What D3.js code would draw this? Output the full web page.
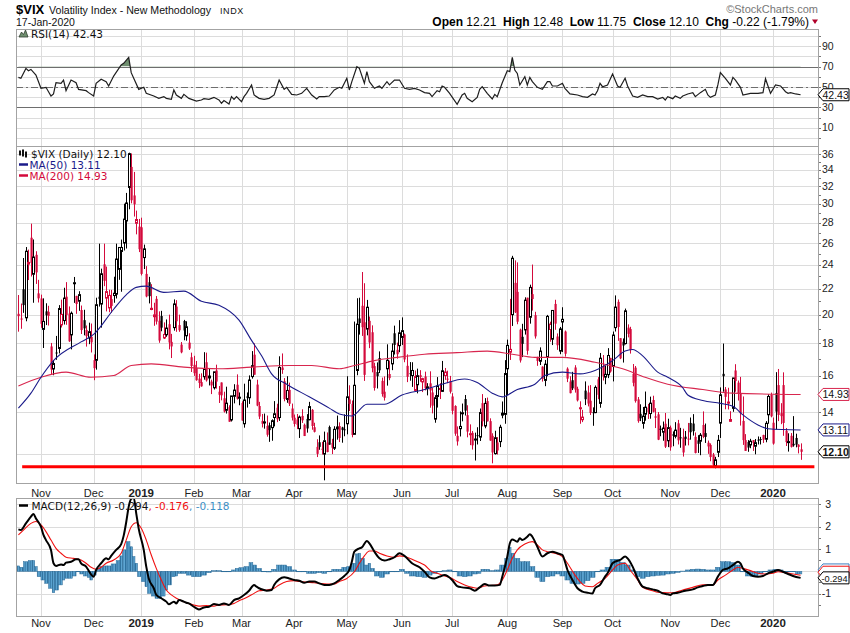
<!DOCTYPE html>
<html>
<head>
<meta charset="utf-8" />
<script src="https://cdn.jsdelivr.net/npm/d3@7"></script>
<style>
  body { margin: 0; background: #fff; }
  svg { display: block; }
  text { white-space: pre; }
</style>
</head>
<body>
<svg id="chart" width="850" height="633"></svg>
<script>
// $VIX daily, 19-Oct-2018 .. 17-Jan-2020, one entry per trading day (month by month)
const opens = [
  20.06,19.72,21.95,19.77,24.07,26.51,23.19,24.90,21.62,
  21.22,18.95,20.24,20.21,17.80,16.39,17.41,17.67,19.26,19.57,21.36,20.08,18.57,22.40,21.42,21.01,20.34,19.60,18.91,18.36,18.44,
  16.93,16.92,21.36,20.79,24.05,21.25,20.50,21.17,21.45,21.56,23.61,25.21,26.00,28.19,31.87,34.36,30.95,27.95,27.61,
  27.54,24.65,23.22,22.52,20.38,19.85,21.19,19.56,19.90,18.36,18.58,19.31,18.10,19.07,20.60,19.25,17.92,19.54,18.51,18.05,17.11,
  16.64,16.45,15.82,15.62,15.93,16.80,15.86,15.65,15.30,16.30,15.08,15.60,14.72,14.09,14.25,13.60,14.83,15.47,14.73,
  14.47,13.41,14.83,14.75,15.94,17.27,15.48,14.31,13.55,13.46,13.30,13.34,13.22,13.72,14.22,13.72,16.48,15.67,14.66,15.18,14.18,
  13.71,13.62,13.17,13.80,13.36,13.65,13.61,14.11,13.24,12.32,12.53,12.24,12.00,12.52,13.25,12.50,12.26,13.16,13.30,13.23,13.14,
  13.41,14.66,14.42,12.90,16.30,19.72,20.66,19.45,18.97,19.55,18.75,16.56,16.21,17.06,15.69,15.08,16.40,16.09,16.70,18.68,17.58,17.85,
  18.40,18.60,16.58,16.14,16.00,15.15,15.47,16.02,15.63,15.95,15.25,15.55,15.04,13.64,14.82,15.23,15.10,16.00,15.82,15.68,
  14.82,14.31,12.83,13.17,13.93,14.68,13.84,12.91,12.97,12.67,12.86,12.77,14.46,13.30,14.57,13.54,12.83,12.02,12.52,12.56,13.84,13.88,
  16.40,17.43,20.00,22.47,21.74,18.93,18.44,18.91,21.28,19.81,21.56,19.96,17.08,16.86,16.53,15.72,17.10,18.94,18.28,20.80,18.46,17.50,
  19.47,18.80,16.41,15.65,15.73,16.48,15.24,14.21,13.61,15.14,15.04,14.59,13.99,13.97,15.78,14.45,16.57,15.91,16.05,17.07,
  16.54,19.07,20.96,18.35,18.11,17.99,19.07,18.97,16.10,16.47,14.66,13.91,13.43,13.89,14.22,13.92,14.63,13.78,13.88,13.17,13.00,13.41,12.60,
  13.22,12.91,12.81,13.43,12.76,12.75,12.79,12.70,13.45,13.42,12.78,12.62,12.58,13.35,12.96,12.51,12.41,11.98,11.50,12.08,
  13.44,16.10,15.21,14.46,13.53,14.19,16.30,15.59,15.00,13.55,12.63,12.54,12.41,12.63,12.35,12.65,12.68,12.87,12.67,13.86,14.90,
  13.46,15.01,15.45,13.94,15.45,13.07,12.53,12.83,12.46,12.73,12.42,12.21
];
const highs = [
  21.49,20.83,24.61,25.62,25.38,27.91,26.34,25.23,22.72,
  21.52,21.23,20.85,20.66,18.03,16.93,18.50,20.71,21.13,22.07,22.53,20.61,20.23,22.96,21.43,21.79,20.68,20.36,19.22,19.42,19.36,
  17.29,21.28,25.94,23.67,25.94,23.85,21.91,21.90,22.98,25.94,25.39,26.33,30.03,31.24,36.20,36.10,33.74,29.28,28.40,
  28.53,25.85,23.89,22.97,22.36,20.89,21.41,20.24,20.28,19.44,19.65,20.00,18.64,21.15,21.09,20.00,18.09,19.62,19.52,18.68,17.40,
  17.20,16.88,16.10,16.13,17.43,17.40,16.40,15.76,16.08,16.65,15.40,15.60,15.08,15.36,14.35,14.85,15.50,16.07,15.04,
  14.56,15.53,15.04,16.01,17.50,18.00,15.76,14.53,13.90,13.92,13.82,13.47,13.63,14.57,14.43,17.17,17.35,15.85,15.96,15.59,14.44,
  13.87,13.90,13.82,14.14,13.42,13.89,14.53,14.15,13.46,12.67,12.85,12.55,13.03,12.99,13.32,12.69,13.29,13.82,13.48,13.26,13.88,
  15.96,15.44,14.60,19.50,21.24,21.28,23.38,22.44,21.11,19.86,19.23,16.77,16.79,17.48,15.88,15.95,17.94,16.90,18.00,19.21,18.05,19.60,
  19.80,18.66,17.29,16.81,16.80,16.30,16.41,16.32,15.87,16.23,15.56,16.25,15.29,14.89,15.91,15.56,16.88,16.45,16.29,15.98,
  15.00,14.35,13.28,14.03,14.44,14.90,14.35,13.38,13.06,12.98,13.24,14.18,14.95,14.73,14.76,13.68,12.95,13.07,12.77,13.36,14.55,16.93,
  18.25,21.19,24.81,24.40,24.22,19.00,19.34,21.31,21.28,22.32,24.03,20.21,17.14,17.74,16.55,16.94,19.98,19.49,20.34,21.12,18.67,19.12,
  20.55,18.87,16.49,15.96,16.22,16.62,15.36,14.56,14.11,15.66,15.42,15.45,14.24,15.43,15.91,17.38,17.25,16.59,17.69,17.07,
  18.80,21.46,21.14,18.35,18.33,20.45,19.30,19.13,16.69,16.57,14.79,14.40,14.26,15.09,14.42,14.81,14.86,14.20,14.00,13.32,13.52,13.95,13.66,
  13.32,13.04,13.49,13.60,13.21,13.17,13.06,13.45,13.72,13.89,12.99,12.86,12.96,14.03,13.42,12.61,12.48,12.05,11.88,12.87,
  15.32,17.99,15.34,15.30,14.04,15.86,16.68,15.71,15.92,14.82,12.91,12.63,12.69,12.63,12.68,12.80,12.78,12.88,13.54,14.94,15.03,
  13.72,16.20,16.39,14.46,16.19,13.20,12.95,12.96,13.79,12.93,12.44,12.48
];
const lows = [
  18.79,18.99,20.13,19.52,22.70,23.00,20.89,22.38,20.91,
  19.06,17.70,19.25,19.22,16.07,16.02,16.95,17.35,19.08,19.29,19.27,18.10,17.61,20.88,20.06,20.28,18.63,18.54,17.79,17.95,17.41,
  15.73,16.35,20.60,19.07,22.20,20.24,20.18,20.14,20.89,21.22,22.72,21.75,25.30,25.48,29.42,30.07,28.65,26.84,25.15,
  23.09,23.64,21.31,20.84,20.33,19.20,19.29,18.04,18.82,18.29,18.44,17.61,17.06,18.86,18.78,18.78,17.36,18.21,18.18,17.57,16.21,
  15.98,15.70,15.28,15.36,15.76,15.65,15.43,14.95,15.20,15.25,14.47,14.61,13.97,13.92,13.51,13.52,14.45,14.65,14.35,
  13.56,13.22,14.23,14.42,15.82,16.05,14.30,13.64,13.23,13.17,12.79,12.55,12.60,13.28,13.49,13.55,16.10,14.56,14.48,14.31,13.57,
  13.27,13.15,12.73,13.45,12.82,12.98,13.58,13.12,12.99,11.87,12.19,11.98,10.90,12.08,12.42,12.00,12.18,12.65,12.54,12.51,12.81,
  12.90,14.05,12.76,12.90,16.02,18.59,18.50,15.69,18.54,17.69,16.19,15.14,15.26,16.15,14.81,14.60,15.42,15.73,16.32,17.28,17.02,17.43,
  17.90,16.80,15.62,15.70,15.35,15.08,14.99,15.64,15.06,15.15,14.88,14.22,13.93,13.46,14.23,14.68,15.07,15.75,15.56,14.98,
  13.88,12.83,12.38,12.80,13.53,13.82,12.76,12.40,12.20,11.72,12.43,12.59,13.28,13.19,13.52,12.60,11.60,11.98,11.98,12.31,13.68,13.41,
  14.90,16.94,19.19,20.12,19.31,16.78,17.12,18.59,17.27,19.35,20.30,18.32,16.58,16.63,15.65,15.39,15.96,18.11,17.89,18.92,17.58,17.30,
  17.44,17.15,15.62,14.99,15.17,15.03,14.55,13.41,13.49,14.36,14.29,13.85,13.31,13.94,14.67,14.22,15.71,15.50,15.85,16.17,
  15.66,18.80,18.17,16.99,16.78,17.93,18.40,17.34,15.38,14.49,13.46,13.54,13.17,13.56,13.65,13.66,13.98,13.20,12.63,12.81,12.60,12.27,12.31,
  12.15,12.35,12.71,12.43,12.28,11.89,12.38,12.39,12.65,12.84,12.03,12.05,11.95,12.72,12.50,12.01,11.69,11.40,11.39,11.87,
  12.73,15.08,14.14,14.13,13.51,14.01,15.08,14.60,13.32,12.41,12.14,12.10,12.26,12.14,11.99,12.43,12.43,12.50,12.53,13.41,13.73,
  12.42,13.13,13.54,13.39,12.83,12.36,12.11,12.29,12.33,12.30,12.03,11.75
];
const closes = [
  19.89,19.64,20.71,25.23,24.22,24.16,24.70,23.35,21.23,
  19.34,19.51,19.96,19.91,16.36,16.72,17.36,20.45,20.02,21.25,19.98,18.14,20.10,22.48,20.80,21.52,18.90,19.02,18.49,18.79,18.07,
  16.44,20.74,21.19,23.23,22.64,21.76,21.46,20.65,21.63,24.52,25.58,25.58,28.38,30.11,36.07,30.41,29.96,28.34,25.42,
  23.22,25.45,21.38,21.40,20.47,19.98,19.50,18.19,19.07,18.60,19.04,18.06,17.80,20.80,19.52,18.89,17.42,18.87,19.13,17.66,16.57,
  16.14,15.73,15.57,15.38,16.37,15.72,15.97,15.43,16.22,15.65,14.91,14.88,14.02,14.46,13.51,14.85,15.17,14.70,14.78,
  13.57,14.63,14.74,15.74,16.59,16.05,14.33,13.77,13.41,13.50,12.88,13.10,13.56,13.91,13.63,16.48,16.33,14.68,15.15,14.43,13.71,
  13.40,13.36,13.74,13.58,12.82,13.18,14.28,13.30,13.02,12.01,12.32,12.18,12.60,12.09,12.42,12.28,13.14,13.25,12.73,13.11,13.12,
  14.80,14.42,12.87,15.44,19.32,19.40,19.10,16.04,20.55,18.06,16.44,15.29,15.96,16.31,14.95,14.75,16.92,15.85,17.50,17.90,17.30,18.71,
  18.86,16.97,15.93,16.09,16.30,15.94,15.99,15.91,15.82,15.28,15.35,15.15,14.33,14.75,15.40,15.26,16.28,16.21,15.82,15.08,
  14.06,12.93,12.57,13.28,13.96,14.07,13.03,12.93,12.39,12.68,12.86,13.97,13.53,14.45,13.53,12.61,12.07,12.74,12.16,13.24,13.94,16.12,
  17.87,17.61,24.59,20.17,19.49,16.91,17.97,21.09,17.52,22.10,21.18,18.47,16.88,17.50,15.80,16.68,19.87,19.32,20.31,19.35,17.88,18.98,
  19.66,17.33,15.82,15.00,15.27,15.20,14.61,14.22,13.74,14.67,14.44,13.95,13.95,15.32,14.91,17.05,15.96,16.07,17.22,16.24,
  18.56,20.56,19.12,17.04,17.86,20.28,18.64,17.57,15.58,14.57,13.54,13.68,13.79,14.25,14.00,14.46,14.01,13.71,12.65,13.11,13.20,12.33,13.22,
  12.30,12.83,13.10,12.62,12.73,12.07,12.69,12.68,13.00,13.05,12.05,12.46,12.86,12.78,12.78,12.34,11.87,11.54,11.75,12.62,
  14.91,15.96,14.80,14.52,13.62,15.86,15.68,14.99,13.94,12.63,12.14,12.29,12.58,12.50,12.51,12.61,12.67,12.65,13.43,14.82,13.78,
  12.47,14.02,13.85,13.79,13.45,12.54,12.56,12.32,12.39,12.42,12.32,12.10
];
const closeBeforeStart = 20.06;

// moving averages: [trading-day index, value]
const ma50 = [[0,14.2],[5,15.0],[9,15.9],[14,16.9],[25,18.1],[30,18.6],[38,20.4],[43,21.5],[47,22.1],[51,22.2],[58,21.7],[66,21.8],[73,21.0],[80,20.7],[88,19.6],[93,18.2],[97,17.2],[101,16.1],[107,15.5],[116,14.8],[124,14.2],[128,13.9],[133,13.8],[139,14.4],[146,14.4],[153,14.9],[162,15.2],[169,15.5],[178,15.8],[183,15.6],[189,15.0],[193,14.8],[199,15.2],[206,15.5],[210,16.0],[217,16.2],[224,16.1],[230,16.3],[237,16.9],[242,17.5],[245,17.6],[249,17.2],[255,16.2],[259,15.9],[265,15.3],[267,14.9],[273,14.6],[280,14.45],[285,14.3],[289,13.85],[295,13.35],[299,13.17],[312,13.11]];
const ma200 = [[0,15.4],[9,15.9],[19,16.2],[29,15.9],[38,16.0],[45,16.6],[53,16.7],[66,16.5],[80,16.4],[93,16.5],[108,16.6],[117,16.6],[128,16.4],[134,16.6],[142,16.9],[151,17.1],[162,17.3],[175,17.4],[187,17.5],[197,17.3],[206,17.1],[217,17.1],[230,16.8],[241,16.4],[250,15.9],[259,15.5],[273,15.2],[285,15.0],[312,14.93]];

const rsi = [[0,59.4],[1,58.5],[3,68.2],[4,65.9],[5,67.2],[7,61.7],[9,48.7],[11,49.7],[13,41.2],[14,43.2],[15,54.2],[17,53.6],[18,56.8],[19,46.4],[21,56.8],[23,54.2],[24,47.7],[27,46.4],[28,44.5],[30,41.2],[31,53.6],[33,57.5],[35,55.2],[36,51],[38,60.7],[41,71.5],[42,73.1],[44,78.9],[45,64],[46,58.5],[48,47.7],[50,49.7],[51,43.8],[54,41.2],[56,38.9],[58,40.6],[59,38.9],[61,38],[62,47.1],[63,42.2],[65,38.9],[66,42.8],[68,38.9],[71,36.3],[73,37.3],[74,38.6],[76,38],[78,39.9],[80,37.3],[81,34.1],[82,36.7],[84,33.4],[85,40.6],[86,38],[87,40.6],[89,35.7],[90,40.6],[91,43.8],[93,52],[94,42.2],[96,38.9],[98,38],[100,38.9],[102,42.2],[104,56.8],[106,47.7],[107,49.7],[109,42.8],[111,42.2],[113,43.8],[115,48.7],[117,42.2],[119,38.3],[120,40.6],[122,40.6],[124,41.2],[126,47.1],[128,49.7],[129,48.7],[131,58.5],[132,47.1],[133,55.2],[135,69.8],[136,68.2],[138,53.6],[139,65],[140,55.2],[142,48.7],[144,51],[145,48.7],[147,55.2],[148,52],[150,56.8],[152,56.8],[154,48.7],[156,47.7],[158,48.7],[160,47.1],[162,44.5],[164,43.8],[165,40.6],[167,46.4],[168,45.4],[169,51],[170,49.7],[172,43.8],[175,33.1],[177,42.2],[178,43.8],[179,38.9],[181,35.7],[183,39.9],[184,47.7],[185,50.3],[187,43.8],[189,38.3],[190,42.8],[191,40.6],[193,54.2],[195,65.9],[196,65],[197,78.9],[198,66.6],[199,63.3],[200,52],[202,60.1],[203,52],[204,59.4],[205,55.2],[207,49.7],[209,47.7],[211,55.2],[212,55.2],[213,51],[215,51],[217,53.6],[218,48.7],[220,43.2],[223,42.2],[225,40.6],[227,39.9],[229,43.2],[230,42.2],[231,46.4],[232,53.6],[233,50.3],[235,52],[237,62.7],[239,51],[240,49.7],[242,58.5],[243,51],[245,41.2],[247,39.9],[249,42.2],[251,40.6],[253,40.6],[255,38.3],[257,39.9],[258,37.3],[259,40.6],[261,38.6],[262,41.2],[264,38.9],[265,41.2],[267,43.2],[269,44.5],[270,40.6],[272,44.5],[274,47.7],[275,42.2],[276,39.9],[278,42.2],[279,52],[280,64],[282,58.5],[284,52],[285,59.4],[286,56.8],[288,49.7],[289,42.2],[292,43.8],[295,43.8],[297,44.5],[298,58.1],[300,43.8],[302,52],[304,51],[306,45.4],[307,43.8],[308,44.5],[310,43.2],[312,42.43]];

const macd = [[0,1.88],[1,1.85],[3,2.15],[5,2.45],[6,2.57],[7,2.37],[9,2.0],[10,1.63],[11,1.40],[13,0.95],[14,0.36],[15,0.24],[17,0.31],[18,0.28],[19,0.39],[21,0.43],[23,0.54],[24,0.54],[25,0.36],[27,0.21],[28,0.03],[30,-0.24],[31,0.06],[33,0.36],[35,0.58],[36,0.54],[37,0.69],[39,0.96],[41,1.22],[42,1.6],[43,2.2],[44,2.9],[45,3.25],[46,3.3],[47,2.6],[48,1.9],[50,0.96],[51,0.21],[52,-0.32],[54,-0.76],[55,-1.06],[57,-1.21],[59,-1.36],[60,-1.48],[62,-1.36],[63,-1.44],[64,-1.29],[66,-1.36],[67,-1.41],[68,-1.44],[70,-1.59],[71,-1.66],[72,-1.71],[74,-1.62],[76,-1.59],[78,-1.47],[80,-1.51],[82,-1.44],[84,-1.51],[86,-1.29],[88,-1.21],[90,-1.06],[92,-0.87],[94,-0.61],[95,-0.69],[96,-0.76],[98,-0.84],[99,-0.87],[101,-0.84],[102,-0.61],[104,-0.36],[106,-0.27],[108,-0.32],[110,-0.39],[112,-0.42],[114,-0.51],[116,-0.46],[118,-0.46],[120,-0.54],[122,-0.61],[124,-0.61],[126,-0.54],[128,-0.39],[130,-0.21],[132,0.06],[133,0.43],[134,0.88],[136,1.03],[137,1.07],[139,1.36],[140,1.25],[142,0.88],[144,0.58],[146,0.48],[148,0.54],[150,0.63],[152,0.81],[154,0.69],[157,0.36],[160,0.18],[162,-0.02],[164,-0.27],[166,-0.32],[168,-0.24],[170,-0.17],[173,-0.39],[175,-0.66],[177,-0.72],[180,-0.76],[182,-0.87],[184,-0.72],[186,-0.57],[188,-0.64],[190,-0.64],[192,-0.61],[193,-0.24],[195,0.66],[196,1.25],[197,1.43],[199,1.33],[200,1.48],[201,1.40],[203,1.55],[204,1.66],[205,1.55],[207,1.10],[209,0.66],[211,0.81],[213,0.88],[215,0.81],[217,0.73],[218,0.43],[219,0.06],[221,-0.39],[223,-0.76],[225,-0.91],[227,-0.96],[229,-0.99],[230,-0.76],[232,-0.61],[234,-0.24],[235,-0.09],[237,0.36],[238,0.43],[240,0.51],[242,0.66],[243,0.58],[245,0.21],[247,-0.32],[249,-0.69],[251,-0.76],[253,-0.81],[255,-0.87],[257,-0.99],[259,-1.03],[260,-1.06],[261,-0.99],[263,-0.96],[266,-0.87],[269,-0.81],[271,-0.72],[273,-0.66],[275,-0.61],[277,-0.61],[279,-0.24],[281,0.06],[283,0.13],[285,0.28],[287,0.43],[288,0.36],[289,0.13],[291,-0.06],[293,-0.21],[295,-0.24],[297,-0.21],[299,-0.09],[301,-0.02],[303,0.06],[305,-0.02],[307,-0.12],[309,-0.21],[312,-0.294]];
const signal = [[0,1.63],[2,1.85],[5,2.15],[7,2.23],[9,2.08],[11,1.78],[13,1.40],[15,1.03],[17,0.81],[19,0.63],[22,0.58],[25,0.51],[27,0.36],[29,0.18],[31,0.09],[33,0.18],[35,0.36],[38,0.51],[41,0.81],[43,1.40],[45,2.0],[47,2.18],[49,1.93],[51,1.40],[53,0.73],[55,0.13],[57,-0.39],[59,-0.84],[61,-1.06],[63,-1.21],[65,-1.32],[67,-1.41],[70,-1.51],[72,-1.56],[75,-1.54],[78,-1.56],[80,-1.51],[83,-1.50],[86,-1.44],[88,-1.32],[91,-1.18],[94,-0.99],[96,-0.87],[99,-0.84],[102,-0.76],[104,-0.61],[107,-0.46],[110,-0.42],[112,-0.46],[115,-0.49],[118,-0.51],[120,-0.54],[123,-0.57],[126,-0.57],[128,-0.46],[131,-0.32],[134,-0.02],[136,0.36],[138,0.69],[140,0.91],[142,0.91],[144,0.81],[147,0.69],[150,0.63],[152,0.69],[154,0.66],[157,0.54],[160,0.39],[162,0.28],[165,-0.02],[167,-0.09],[170,-0.21],[173,-0.32],[175,-0.46],[178,-0.61],[181,-0.72],[183,-0.76],[186,-0.66],[189,-0.63],[191,-0.61],[193,-0.39],[195,0.06],[197,0.58],[199,0.96],[202,1.22],[205,1.33],[207,1.18],[209,0.96],[211,0.88],[214,0.81],[217,0.66],[219,0.36],[222,-0.17],[224,-0.46],[226,-0.66],[229,-0.69],[231,-0.54],[234,-0.32],[237,0.06],[239,0.28],[242,0.36],[244,0.06],[247,-0.39],[249,-0.72],[253,-0.87],[255,-0.94],[259,-0.96],[261,-0.96],[265,-0.84],[269,-0.72],[273,-0.61],[277,-0.61],[279,-0.39],[282,-0.17],[285,0.06],[287,0.18],[289,0.13],[292,0.03],[295,-0.09],[298,-0.12],[301,-0.09],[303,-0.02],[306,-0.06],[309,-0.12],[312,-0.176]];
const histogram = [[0,0.24],[1,0.18],[3,0.43],[5,0.48],[6,0.48],[7,0.21],[8,-0.24],[10,-0.39],[11,-0.54],[13,-0.76],[14,-0.96],[15,-0.84],[17,-0.61],[18,-0.39],[19,-0.31],[21,-0.31],[22,-0.21],[24,-0.02],[25,-0.12],[27,-0.21],[28,-0.27],[29,-0.39],[30,-0.17],[32,0.13],[33,0.21],[35,0.24],[36,0.24],[38,0.33],[40,0.48],[41,0.69],[42,0.96],[44,1.33],[45,1.10],[46,0.66],[47,0.36],[48,-0.24],[50,-0.46],[51,-0.69],[52,-0.99],[54,-1.11],[55,-1.21],[56,-1.21],[58,-1.11],[59,-0.84],[60,-0.61],[62,-0.24],[63,-0.21],[64,-0.09],[66,-0.09],[68,-0.17],[70,-0.24],[72,-0.24],[74,-0.17],[76,-0.06],[78,0.03],[80,0.03],[82,-0.02],[84,-0.02],[86,0.06],[87,0.13],[89,0.16],[91,0.21],[93,0.39],[94,0.28],[96,0.13],[98,-0.02],[100,-0.03],[102,0.09],[104,0.28],[106,0.28],[108,0.21],[110,0.06],[112,-0.02],[114,-0.02],[116,-0.09],[118,-0.09],[120,-0.06],[122,-0.09],[124,-0.02],[126,0.09],[128,0.09],[130,0.18],[132,0.21],[134,0.36],[135,0.78],[136,0.81],[137,0.58],[139,0.28],[140,0.36],[141,0.13],[143,-0.21],[145,-0.27],[147,-0.12],[149,-0.02],[151,-0.02],[153,0.09],[155,-0.09],[157,-0.21],[160,-0.24],[162,-0.27],[164,-0.17],[166,-0.09],[168,-0.02],[170,0.03],[172,0.06],[174,-0.02],[176,-0.21],[178,-0.24],[180,-0.21],[182,-0.12],[184,-0.09],[185,0.09],[187,0.09],[189,0.03],[191,0.06],[193,0.28],[195,0.58],[196,1.07],[197,0.81],[199,0.58],[201,0.43],[203,0.43],[205,0.21],[207,-0.27],[209,-0.46],[211,-0.24],[213,-0.21],[215,-0.12],[217,-0.21],[219,-0.39],[221,-0.54],[223,-0.57],[225,-0.54],[227,-0.42],[229,-0.27],[231,-0.02],[233,0.06],[235,0.18],[237,0.54],[239,0.54],[241,0.39],[243,0.28],[245,0.06],[247,-0.24],[249,-0.31],[251,-0.24],[253,-0.21],[255,-0.18],[257,-0.17],[259,-0.12],[261,-0.09],[263,-0.05],[265,0.01],[267,0.06],[269,0.09],[271,0.10],[273,0.09],[275,0.06],[277,0.06],[279,0.18],[281,0.43],[283,0.43],[285,0.39],[287,0.28],[289,-0.02],[291,-0.21],[293,-0.24],[294,-0.21],[296,-0.12],[298,-0.02],[300,0.06],[302,0.09],[304,0.06],[306,-0.02],[308,-0.02],[312,-0.118]];

// x axis: label and trading-day index of the month's first session
const monthLabels = ["Nov","Dec","2019","Feb","Mar","Apr","May","Jun","Jul","Aug","Sep","Oct","Nov","Dec","2020"];
const monthStarts = [9,30,49,70,89,110,131,153,173,195,217,237,260,280,301];
const priceTicks = [12,14,16,18,20,22,24,26,28,30,32,34,36];
const rsiTicks = [10,30,50,70,90];
const macdTicks = [-1,1,2,3];
const supportLevel = 11.46;
const supportSpan = [1.5, 317.5];

const red = "#d40a3c", navy = "#1b1b8a", ma200Col = "#d8264e";
const histFill = "#5ea6d3", histEdge = "#2a6b98";
const gridCol = "#dcdcdc", frameCol = "#a3a3a3";
const axisFont = "'Liberation Sans', Arial, sans-serif";
const legendFont = "'DejaVu Sans', Verdana, sans-serif";

const svg = d3.select("#chart");
const left = 16, right = 818;
const last = closes.length - 1;

const x = d3.scaleLinear().domain([0, last]).range([18.4, 800.6]);
const yRsi = d3.scaleLinear().domain([0, 100]).range([138.2, 35.8]);
const yPx = d3.scaleLog().domain([14, 36]).range([412, 154.2]);
const yMacd = d3.scaleLinear().domain([-1, 3]).range([593.6, 504.4]);

const panels = {
  rsi:  { top: 29,  bottom: 146 },
  main: { top: 146, bottom: 483 },
  macd: { top: 498, bottom: 616 }
};

const defs = svg.append("defs");
Object.entries(panels).forEach(([k, p]) => {
  defs.append("clipPath").attr("id", "clip-" + k)
    .append("rect").attr("x", left).attr("y", p.top)
    .attr("width", right - left).attr("height", p.bottom - p.top);
});
// histogram stripes, one per session
const pat = defs.append("pattern").attr("id", "hstripe")
  .attr("patternUnits", "userSpaceOnUse")
  .attr("x", x(0) - 1.25).attr("y", 0)
  .attr("width", x(1) - x(0)).attr("height", 8);
pat.append("rect").attr("width", x(1) - x(0)).attr("height", 8).attr("fill", histFill);
pat.append("rect").attr("width", 0.9).attr("height", 8).attr("fill", histEdge);

// ---- grids and frames
function grid(p, yScale, values) {
  const g = svg.append("g").attr("shape-rendering", "crispEdges");
  g.selectAll("line.h").data(values).join("line")
    .attr("x1", left).attr("x2", right)
    .attr("y1", d => Math.round(yScale(d)) + 0.5).attr("y2", d => Math.round(yScale(d)) + 0.5)
    .attr("stroke", gridCol);
  g.selectAll("line.v").data(monthStarts).join("line")
    .attr("x1", d => Math.round(x(d)) + 0.5).attr("x2", d => Math.round(x(d)) + 0.5)
    .attr("y1", p.top).attr("y2", p.bottom)
    .attr("stroke", gridCol);
}
grid(panels.rsi, yRsi, d3.range(0, 101, 10));
grid(panels.main, yPx, priceTicks);
grid(panels.macd, yMacd, [-1, 0, 1, 2, 3]);

// RSI reference lines
svg.append("g").attr("shape-rendering", "crispEdges").selectAll("line").data([70, 30]).join("line")
  .attr("x1", left).attr("x2", right)
  .attr("y1", d => Math.round(yRsi(d)) + 0.5).attr("y2", d => Math.round(yRsi(d)) + 0.5)
  .attr("stroke", "#6e6e6e");
svg.append("line").attr("x1", left).attr("x2", right)
  .attr("y1", Math.round(yRsi(50)) + 0.5).attr("y2", Math.round(yRsi(50)) + 0.5)
  .attr("stroke", "#6e6e6e").attr("stroke-dasharray", "7,3,2,3");

// ---- RSI line with overbought fill
const rsiG = svg.append("g").attr("clip-path", "url(#clip-rsi)");
defs.append("clipPath").attr("id", "clip-ob").append("rect")
  .attr("x", left).attr("y", panels.rsi.top).attr("width", right - left)
  .attr("height", yRsi(70) - panels.rsi.top);
rsiG.append("path").datum(rsi)
  .attr("clip-path", "url(#clip-ob)")
  .attr("d", d3.area().x(d => x(d[0])).y0(yRsi(70)).y1(d => yRsi(d[1])))
  .attr("fill", "#6f8f6f");
rsiG.append("path").datum(rsi)
  .attr("d", d3.line().x(d => x(d[0])).y(d => yRsi(d[1])))
  .attr("fill", "none").attr("stroke", "#1e1e1e").attr("stroke-width", 1.2);

// ---- candles
const candleG = svg.append("g").attr("clip-path", "url(#clip-main)");
closes.forEach((c, i) => {
  const o = opens[i], h = highs[i], l = lows[i];
  const prev = i ? closes[i - 1] : closeBeforeStart;
  const col = c < prev ? red : "#000";
  const cx = Math.round(x(i)) + 0.5;
  candleG.append("line").attr("x1", cx).attr("x2", cx)
    .attr("y1", yPx(h)).attr("y2", yPx(l)).attr("stroke", col);
  const top = yPx(Math.max(o, c)), bot = yPx(Math.min(o, c));
  const hgt = Math.max(bot - top, 1);
  if (c > o) {
    candleG.append("rect").attr("x", cx - 1).attr("y", top).attr("width", 2).attr("height", hgt)
      .attr("fill", "#fff").attr("stroke", col).attr("stroke-width", 1);
  } else {
    candleG.append("rect").attr("x", cx - 1).attr("y", top).attr("width", 2.2).attr("height", hgt)
      .attr("fill", col);
  }
});

// moving averages
const maLine = d3.line().x(d => x(d[0])).y(d => yPx(d[1])).curve(d3.curveMonotoneX);
candleG.append("path").datum(ma200).attr("d", maLine)
  .attr("fill", "none").attr("stroke", ma200Col).attr("stroke-width", 1.1);
candleG.append("path").datum(ma50).attr("d", maLine)
  .attr("fill", "none").attr("stroke", navy).attr("stroke-width", 1.1);

// support line
svg.append("line")
  .attr("x1", x(supportSpan[0])).attr("x2", x(supportSpan[1]))
  .attr("y1", yPx(supportLevel)).attr("y2", yPx(supportLevel))
  .attr("stroke", "#f00").attr("stroke-width", 3);

// ---- MACD
const macdG = svg.append("g").attr("clip-path", "url(#clip-macd)");
histogram.forEach((d, k) => {
  const a = k ? (histogram[k - 1][0] + d[0]) / 2 : d[0] - 0.5;
  const b = k < histogram.length - 1 ? (histogram[k + 1][0] + d[0]) / 2 : d[0] + 0.5;
  const y0 = yMacd(0), y1 = yMacd(d[1]);
  macdG.append("rect")
    .attr("x", x(a)).attr("width", x(b) - x(a))
    .attr("y", Math.min(y0, y1)).attr("height", Math.max(Math.abs(y1 - y0), 0.5))
    .attr("fill", "url(#hstripe)").attr("stroke", histEdge).attr("stroke-width", 0.5);
});
const macdLine = d3.line().x(d => x(d[0])).y(d => yMacd(d[1])).curve(d3.curveMonotoneX);
macdG.append("path").datum(signal).attr("d", macdLine)
  .attr("fill", "none").attr("stroke", "#f01010").attr("stroke-width", 1.1);
macdG.append("path").datum(macd).attr("d", macdLine)
  .attr("fill", "none").attr("stroke", "#000").attr("stroke-width", 2);

// frames
svg.append("g").attr("shape-rendering", "crispEdges").selectAll("rect").data(Object.values(panels)).join("rect")
  .attr("x", left + 0.5).attr("y", d => d.top + 0.5)
  .attr("width", right - left).attr("height", d => d.bottom - d.top)
  .attr("fill", "none").attr("stroke", frameCol);

// ---- right-hand axes
function rightAxis(yScale, values, anchorEnd, minor) {
  const g = svg.append("g");
  g.selectAll("text").data(values).join("text")
    .attr("x", anchorEnd ? 831 : 822).attr("y", d => yScale(d) + 3.5)
    .attr("text-anchor", anchorEnd ? "end" : "start")
    .style("font", "10.5px " + axisFont).attr("fill", "#222")
    .text(d => d);
  g.selectAll("line").data(minor).join("line")
    .attr("x1", right + 0.5).attr("x2", right + 3)
    .attr("y1", d => Math.round(yScale(d)) + 0.5).attr("y2", d => Math.round(yScale(d)) + 0.5)
    .attr("stroke", "#777").attr("shape-rendering", "crispEdges");
}
rightAxis(yRsi, rsiTicks, false, d3.range(0, 101, 10));
rightAxis(yPx, priceTicks.filter(v => v > 12), false, d3.range(12, 37, 1));
rightAxis(yMacd, macdTicks, true, [-1.5, -1, -0.5, 0, 0.5, 1, 1.5, 2, 2.5, 3]);

// ---- x labels
[493 + 3.5, 623 + 3.5].forEach(yb => {
  svg.append("g").selectAll("text").data(monthLabels).join("text")
    .attr("x", (d, k) => x(monthStarts[k])).attr("y", yb)
    .attr("text-anchor", "middle")
    .style("font", (d, k) => (/^\d/.test(d) ? "bold 11.5px " : "11px ") + axisFont)
    .attr("fill", "#222").text(d => d);
});

// ---- value tags
function tag(y, text, stroke, bold, size) {
  svg.append("path")
    .attr("d", `M${right},${y} L${right + 5},${y - 6} L849,${y - 6} L849,${y + 6} L${right + 5},${y + 6} Z`)
    .attr("fill", "#fff").attr("stroke", stroke);
  if (!text) return;
  svg.append("text").attr("x", size ? 821.5 : 822.5).attr("y", y + 4)
    .style("font", (bold ? "bold " : "") + (size || 10.5) + "px " + axisFont).attr("fill", "#111").text(text);
}
const rsiLast = rsi[rsi.length - 1][1];
const ma50Last = ma50[ma50.length - 1][1], ma200Last = ma200[ma200.length - 1][1];
const macdLast = macd[macd.length - 1][1], sigLast = signal[signal.length - 1][1], histLast = histogram[histogram.length - 1][1];
tag(yRsi(rsiLast), rsiLast.toFixed(2), "#000", false);
tag(yPx(ma200Last), ma200Last.toFixed(2), ma200Col, false);
tag(yPx(ma50Last), ma50Last.toFixed(2), navy, false);
tag(yPx(closes[last]), closes[last].toFixed(2), "#000", true);
tag(yMacd(histLast) - 4, "", "#3d7fc0", false);
tag(yMacd(sigLast) - 3, "", "#f01010", false);
tag(yMacd(macdLast), macdLast.toFixed(3), "#000", false, 9.2);

// ---- legends
const leg = svg.append("g").style("font", "10.5px " + legendFont);
leg.append("path").attr("d", "M19,37 L21.5,32 L23.5,34.5 L25.5,30 L28,37 Z")
  .attr("fill", "#6f8f6f").attr("stroke", "#2e3e2e").attr("stroke-width", 0.8);
leg.append("text").attr("x", 31).attr("y", 37.5).attr("fill", "#111")
  .text(`RSI(14) ${rsiLast.toFixed(2)}`);

leg.append("g").call(g => {
  [[20, 151, 155], [23, 150, 156], [26, 152, 157]].forEach(([cx, a, b]) => {
    g.append("line").attr("x1", cx).attr("x2", cx).attr("y1", a - 1).attr("y2", b + 1).attr("stroke", "#111");
    g.append("rect").attr("x", cx - 1).attr("y", a).attr("width", 2).attr("height", b - a).attr("fill", "#111");
  });
});
leg.append("text").attr("x", 31).attr("y", 157.5).attr("fill", "#111")
  .text(`$VIX (Daily) ${closes[last].toFixed(2)}`);
leg.append("line").attr("x1", 19).attr("x2", 28).attr("y1", 164.5).attr("y2", 164.5)
  .attr("stroke", navy).attr("stroke-width", 2.5);
leg.append("text").attr("x", 29.5).attr("y", 168.5).attr("fill", navy)
  .text(`MA(50) ${ma50Last.toFixed(2)}`);
leg.append("line").attr("x1", 19).attr("x2", 28).attr("y1", 175.5).attr("y2", 175.5)
  .attr("stroke", red).attr("stroke-width", 2.5);
leg.append("text").attr("x", 29.5).attr("y", 179.5).attr("fill", red)
  .text(`MA(200) ${ma200Last.toFixed(2)}`);

leg.append("line").attr("x1", 19).attr("x2", 28).attr("y1", 505.5).attr("y2", 505.5)
  .attr("stroke", "#000").attr("stroke-width", 2.5);
const mt = leg.append("text").attr("x", 31.5).attr("y", 509.5);
mt.append("tspan").attr("fill", "#111").text(`MACD(12,26,9) ${macdLast.toFixed(3)}`);
mt.append("tspan").attr("fill", "#f01010").text(`, ${sigLast.toFixed(3)}`);
mt.append("tspan").attr("fill", "#3d8fc6").text(`, ${histLast.toFixed(3)}`);

// ---- header
const hfont = "'Liberation Sans', Arial, sans-serif";
svg.append("text").attr("x", 16).attr("y", 14).style("font", "bold 13px " + hfont).attr("fill", "#000").text("$VIX");
svg.append("text").attr("x", 49).attr("y", 13.5).style("font", "11px " + hfont).attr("fill", "#111")
  .attr("textLength", 162).attr("lengthAdjust", "spacingAndGlyphs")
  .text("Volatility Index - New Methodology");
svg.append("text").attr("x", 220).attr("y", 13.5).style("font", "9px " + hfont).attr("fill", "#111")
  .attr("letter-spacing", "0.6").text("INDX");
svg.append("text").attr("x", 16).attr("y", 26).style("font", "10.5px " + hfont).attr("fill", "#111").text("17-Jan-2020");
svg.append("text").attr("x", 818).attr("y", 13).attr("text-anchor", "end")
  .style("font", "11px " + hfont).attr("fill", "#777").text("\u00a9StockCharts.com");

const chg = closes[last] - closes[last - 1];
const pct = chg / closes[last - 1] * 100;
const ohlc = svg.append("text").attr("x", 809).attr("y", 26).attr("text-anchor", "end")
  .style("font", "12px " + hfont).attr("fill", "#000");
[["Open", opens[last].toFixed(2)], ["High", highs[last].toFixed(2)], ["Low", lows[last].toFixed(2)],
 ["Close", closes[last].toFixed(2)], ["Chg", `${chg.toFixed(2)} (${pct.toFixed(2)}%)`]].forEach(([k, v], j) => {
  ohlc.append("tspan").style("font-weight", "bold").text((j ? "  " : "") + k);
  ohlc.append("tspan").text(" " + v);
});
svg.append("path").attr("d", "M812,19.5 L818,19.5 L815,24 Z").attr("fill", "#b0002a");
</script>
</body>
</html>
